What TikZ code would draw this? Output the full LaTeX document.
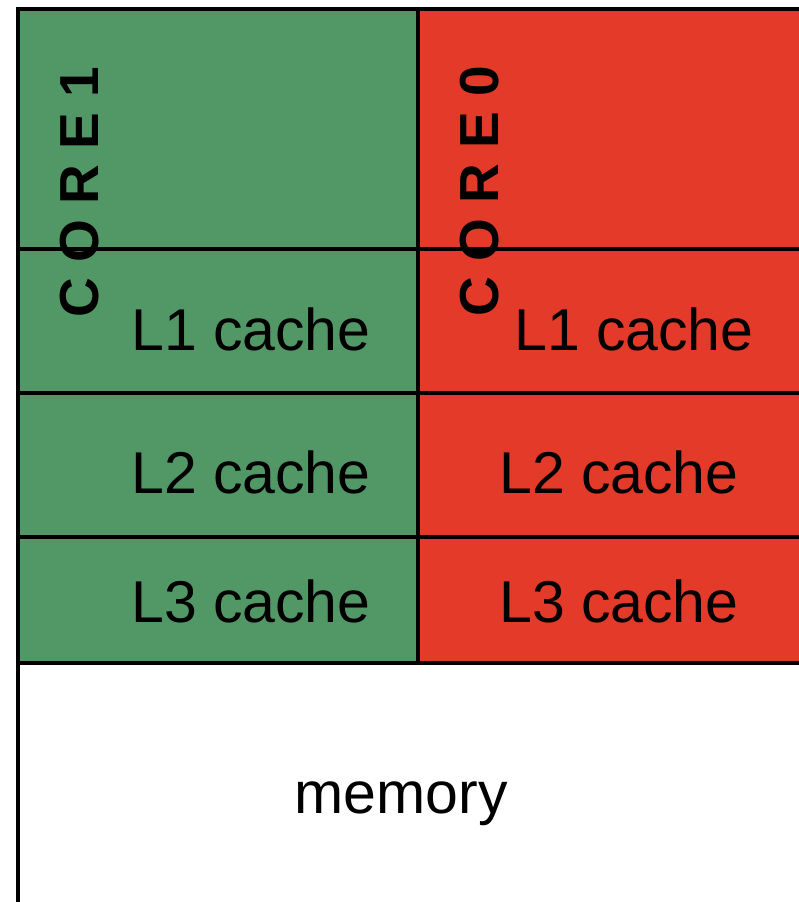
\documentclass[tikz,border=0pt]{standalone}
\usepackage{fontspec}
\setmainfont{Liberation Sans}
\definecolor{coregreen}{RGB}{82,152,102}
\definecolor{corered}{RGB}{227,58,41}
\begin{document}
\begin{tikzpicture}[x=1pt,y=-1pt,
  cellline/.style={line width=4.5pt,draw=black},
  lbl/.style={inner sep=0pt,anchor=base west,font=\fontsize{59}{62}\selectfont},
  corelbl/.style={inner sep=0pt,rotate=90,font=\fontsize{55}{60}\selectfont\bfseries}]
\useasboundingbox (0,0) rectangle (799,902);
\begin{scope}
\clip (0,0) rectangle (799,902);
% fills
\fill[coregreen] (18,9) rectangle (418,663);
\fill[corered] (418,9) rectangle (830,663);
\fill[white] (18,663) rectangle (830,910);
% grid lines
\coordinate (tl) at (18,9);
\coordinate (tr) at (830,9);
\coordinate (bl) at (18,910);
\coordinate (dt) at (418,9);
\coordinate (db) at (418,663);
\draw[cellline] (tr) -- (tl) -- (bl);
\draw[cellline] (dt) -- (db);
\foreach \yy/\nm in {249/a,393/b,537/c,663/d}{
  \coordinate (h\nm l) at (18,\yy);
  \coordinate (h\nm r) at (830,\yy);
  \draw[cellline] (h\nm l) -- (h\nm r);
}
\end{scope}
% labels
\node[corelbl] (core1) at (80,192) {C O R E 1};
\node[corelbl] (core0) at (480,191) {C O R E 0};
\node[lbl] (l1a) at (131,350) {L1 cache};
\node[lbl] (l2a) at (131,493) {L2 cache};
\node[lbl] (l3a) at (131,622) {L3 cache};
\node[lbl] (l1b) at (514,350) {L1 cache};
\node[lbl] (l2b) at (499,493) {L2 cache};
\node[lbl] (l3b) at (499,622) {L3 cache};
\node[lbl,anchor=base] (mem) at (401,813) {memory};
\end{tikzpicture}
\end{document}
